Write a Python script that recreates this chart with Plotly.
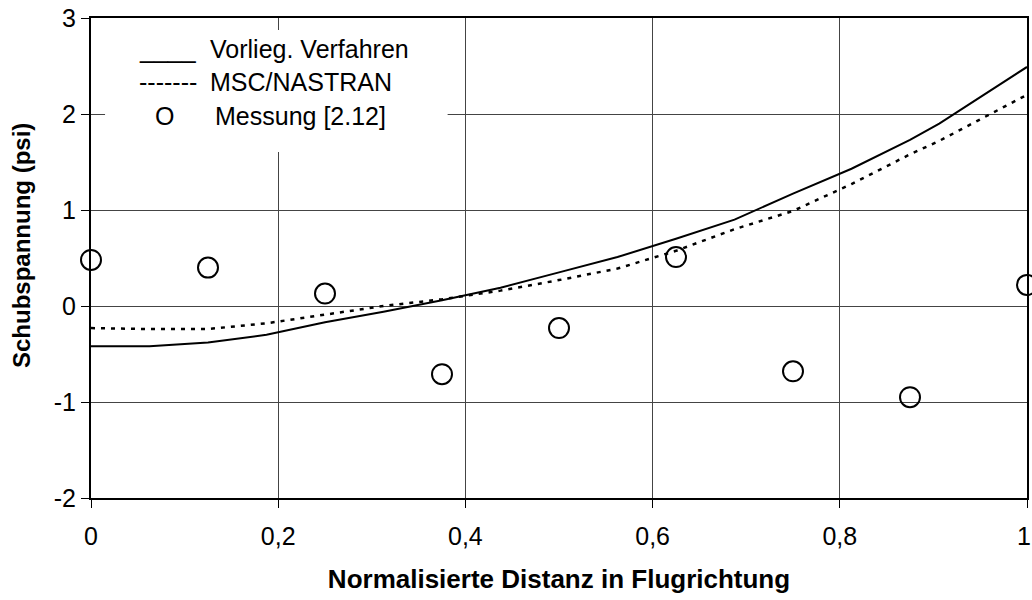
import plotly.graph_objects as go

# ---- data ----
x_model = [0, 0.0625, 0.125, 0.1875, 0.25, 0.3125, 0.375, 0.4375, 0.5, 0.5625,
           0.625, 0.6875, 0.75, 0.8125, 0.875, 0.90625, 1.0]
vorlieg = [-0.42, -0.42, -0.38, -0.30, -0.17, -0.06, 0.06, 0.19, 0.35, 0.51,
           0.70, 0.90, 1.17, 1.43, 1.73, 1.90, 2.49]
nastran = [-0.23, -0.24, -0.24, -0.18, -0.09, 0.00, 0.07, 0.16, 0.27, 0.39,
           0.575, 0.80, 0.99, 1.27, 1.58, 1.72, 2.20]
x_mess = [0, 0.125, 0.25, 0.375, 0.5, 0.625, 0.75, 0.875, 1.0]
messung = [0.48, 0.40, 0.13, -0.71, -0.23, 0.51, -0.68, -0.95, 0.22]

x_ticks = [0, 0.2, 0.4, 0.6, 0.8, 1.0]
x_ticktext = ["0", "0,2", "0,4", "0,6", "0,8", "1"]
y_ticks = [-2, -1, 0, 1, 2, 3]
y_ticktext = ["-2", "-1", "0", "1", "2", "3"]

legend_names = ["Vorlieg. Verfahren", "MSC/NASTRAN", "Messung [2.12]"]
legend_marks = ["____", "-------", "O"]

x_title = "Normalisierte Distanz in Flugrichtung"
y_title = "Schubspannung (psi)"

FONT = "Arial, Liberation Sans, sans-serif"

fig = go.Figure()
fig.add_trace(go.Scatter(x=x_model, y=vorlieg, mode="lines", name=legend_names[0],
                         line=dict(color="black", width=2), showlegend=False))
fig.add_trace(go.Scatter(x=x_model, y=nastran, mode="lines", name=legend_names[1],
                         line=dict(color="black", width=2.5, dash="4px,6px"), showlegend=False))
fig.add_trace(go.Scatter(x=x_mess, y=messung, mode="markers", name=legend_names[2],
                         marker=dict(symbol="circle-open", size=20, color="black",
                                     line=dict(width=2, color="black")),
                         cliponaxis=False, showlegend=False))

# legend box (text-based legend as in the original)
fig.add_shape(type="rect", xref="x", yref="y", x0=0.015, x1=0.381, y0=1.604, y1=2.875,
              fillcolor="white", line=dict(width=0), layer="above")

rows_y = [2.677, 2.333, 1.984]
mark_x = [0.049, 0.049, 0.066]
name_x = [0.125, 0.125, 0.130]
for i in range(3):
    fig.add_annotation(x=mark_x[i], y=rows_y[i], xref="x", yref="y", text=legend_marks[i],
                       showarrow=False, xanchor="left", yanchor="middle",
                       font=dict(family=FONT, size=25, color="black"))
    fig.add_annotation(x=name_x[i], y=rows_y[i], xref="x", yref="y", text=legend_names[i],
                       showarrow=False, xanchor="left", yanchor="middle",
                       font=dict(family=FONT, size=25, color="black"))

# y axis title placed like the original (slightly above the plot centre)
fig.add_annotation(x=(21 - 91) / 936, xref="paper", xanchor="center",
                   y=1 - (246 - 18) / 480, yref="paper", yanchor="middle",
                   text="<b>" + y_title + "</b>", textangle=-90, showarrow=False,
                   font=dict(family=FONT, size=24, color="black"))

# last x tick label: kept inside the page edge
axis_ticktext = x_ticktext[:-1] + [""]
fig.add_annotation(x=(1032 - 91) / 936, xref="paper", xanchor="right",
                   y=1 - (536 - 18) / 480, yref="paper", yanchor="middle",
                   text=x_ticktext[-1], showarrow=False, borderpad=0,
                   font=dict(family=FONT, size=25, color="black"))

axis_common = dict(showline=True, linecolor="black", linewidth=2, mirror=True,
                   showgrid=True, gridcolor="#444444", gridwidth=1,
                   ticks="outside", ticklen=8, tickwidth=1, tickcolor="black",
                   tickfont=dict(family=FONT, size=25, color="black"),
                   zeroline=False, automargin=False)

fig.update_xaxes(range=[0, 1], tickvals=x_ticks, ticktext=axis_ticktext, ticklabelstandoff=7,
                 title=dict(text="<b>" + x_title + "</b>",
                            font=dict(family=FONT, size=26, color="black"), standoff=21),
                 **axis_common)
fig.update_yaxes(range=[-2, 3], tickvals=y_ticks, ticktext=y_ticktext, ticklabelstandoff=0,
                 **axis_common)

fig.update_layout(width=1032, height=600,
                  margin=dict(l=91, r=5, t=18, b=102),
                  paper_bgcolor="white", plot_bgcolor="white",
                  font=dict(family=FONT, size=24, color="black"))

fig.write_html("out.html")
